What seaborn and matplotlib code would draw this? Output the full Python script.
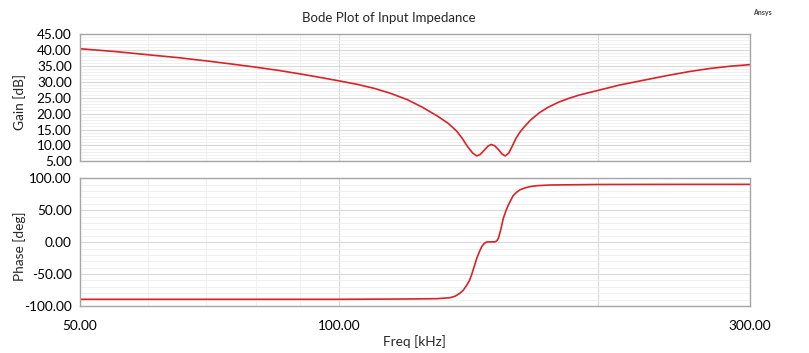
import numpy as np
import pandas as pd
import seaborn as sns
import matplotlib.pyplot as plt
from matplotlib.ticker import FixedLocator, MultipleLocator, NullFormatter

# Valores (frequência em kHz)
freq_ganho = [50, 55, 60, 65, 70, 75, 80, 85, 90, 95, 100, 105, 110, 115, 120,
              125, 130, 134, 137, 139, 141, 143, 144.6, 146, 147.5, 149, 150.3,
              151.7, 153.2, 154.7, 156, 157.5, 159, 160.5, 162, 164, 167, 171,
              175, 180, 185, 190, 200, 212, 225, 240, 255, 270, 285, 300]
ganho_db = [40.4, 39.5, 38.5, 37.6, 36.6, 35.6, 34.6, 33.6, 32.5, 31.4, 30.3,
            29.2, 27.9, 26.3, 24.4, 22.0, 19.3, 16.9, 14.5, 12.3, 9.7, 7.6,
            6.7, 7.2, 8.5, 9.8, 10.3, 9.9, 8.7, 7.3, 6.7, 7.6, 9.8, 12.1,
            13.9, 15.7, 18.0, 20.3, 22.0, 23.6, 24.8, 25.8, 27.3, 29.0, 30.4,
            31.9, 33.2, 34.2, 34.9, 35.4]

freq_fase = [50, 80, 100, 120, 130, 134.6, 136.5, 138.2, 139.5, 140.8, 141.8,
             142.6, 143.6, 144.6, 145.6, 146.5, 147.5, 148.5, 150.2, 151.8,
             152.5, 153.2, 154.2, 155.2, 156.3, 157.3, 158.4, 159.4, 160.8,
             162.3, 164.5, 166.7, 170, 175.9, 200, 250, 300]
fase_deg = [-89.5, -89.5, -89.5, -89.0, -88.5, -87, -84.5, -80, -75, -67, -60,
            -51, -38, -25, -15, -7, -2, 0.3, 0.5, 0.5, 2, 6, 20, 37, 49, 58,
            66, 73, 78, 82, 85, 87, 88.5, 89.5, 90.3, 90.5, 90.5]

ticks_x = [50, 100, 200, 300]
rotulos_x = ["50.00", "100.00", "", "300.00"]
ticks_menores_x = [60, 70, 80, 90]

ganho = pd.DataFrame({"freq": freq_ganho, "valor": ganho_db})
fase = pd.DataFrame({"freq": freq_fase, "valor": fase_deg})

sns.set_style("white")
plt.rcParams['font.family'] = ['Lato', 'DejaVu Sans']

cor_linha = "#d9232a"
fig = plt.figure(figsize=(8.09, 3.53), dpi=100)
ax1 = fig.add_axes([0.0989, 0.543, 0.8276, 0.3604])
ax2 = fig.add_axes([0.0989, 0.1331, 0.8276, 0.3618])

sns.lineplot(data=ganho, x="freq", y="valor", ax=ax1, color=cor_linha, linewidth=1.2)
sns.lineplot(data=fase, x="freq", y="valor", ax=ax2, color=cor_linha, linewidth=1.2)

for ax in (ax1, ax2):
    ax.set_xscale("log")
    ax.set_xlim(50, 300)
    ax.xaxis.set_major_locator(FixedLocator(ticks_x))
    ax.xaxis.set_minor_locator(FixedLocator(ticks_menores_x))
    ax.xaxis.set_minor_formatter(NullFormatter())
    ax.grid(which="major", color="#d9d9d9", linewidth=0.8)
    ax.grid(which="minor", color="#eeeeee", linewidth=0.6)
    ax.set_axisbelow(True)
    for s in ax.spines.values():
        s.set_color("#a6a6a6")
        s.set_linewidth(1.0)
    ax.tick_params(which="both", direction="out", colors="#808080",
                   labelcolor="black", labelsize=9.8)
    ax.tick_params(which="major", length=3, width=0.8)
    ax.tick_params(which="minor", length=2, width=0.6)
    ax.tick_params(axis="y", which="major", pad=3)
    ax.set_xlabel("")

ax1.set_ylim(5, 45)
ax1.yaxis.set_major_locator(MultipleLocator(5))
ax1.yaxis.set_minor_locator(MultipleLocator(1))
ax1.yaxis.set_major_formatter(lambda v, p: f"{v:.2f}")
ax1.xaxis.set_major_formatter(NullFormatter())
ax1.tick_params(axis="x", which="both", length=0)
ax1.set_ylabel("Gain [dB]", fontsize=9.8)
ax1.yaxis.set_label_coords(-0.08, 0.47)

ax2.set_ylim(-100, 100)
ax2.yaxis.set_major_locator(MultipleLocator(50))
ax2.yaxis.set_minor_locator(MultipleLocator(10))
ax2.yaxis.set_major_formatter(lambda v, p: f"{v:.2f}")
ax2.set_xticklabels(rotulos_x)
ax2.tick_params(axis="x", which="major", pad=7)
ax2.set_ylabel("Phase [deg]", fontsize=9.8)
ax2.yaxis.set_label_coords(-0.08, 0.47)
ax2.set_xlabel("Freq [kHz]", fontsize=9.8)
ax2.xaxis.set_label_coords(0.5, -0.225)

fig.text(389 / 809, 1 - 18 / 353, "Bode Plot of Input Impedance",
         ha="center", va="center", fontsize=9.5)
fig.text(762 / 809, 1 - 12.5 / 353, "Ansys", ha="center", va="center",
         fontsize=5, color="#444444", fontweight="bold")

fig.savefig("out.png", dpi=100)
